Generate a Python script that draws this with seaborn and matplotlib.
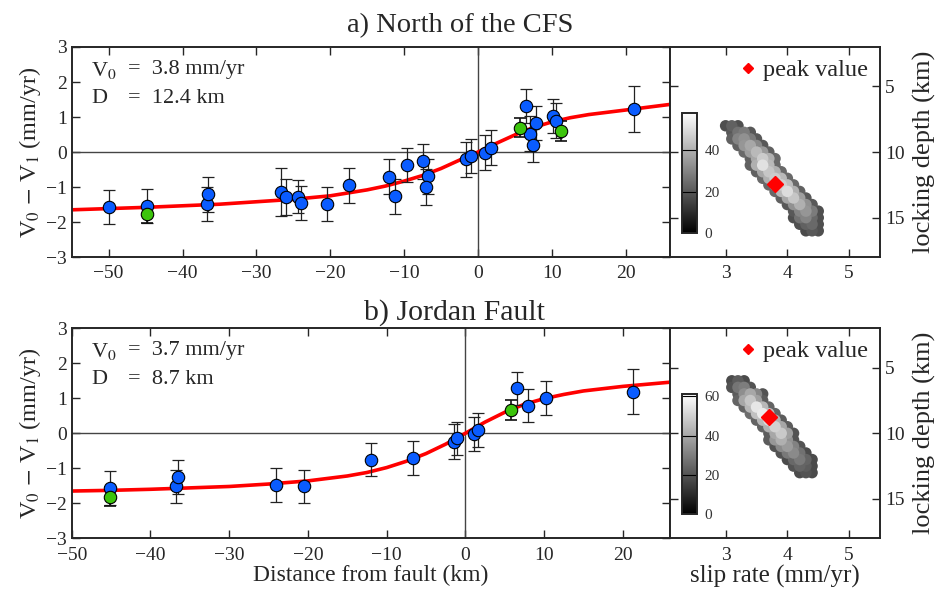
import numpy as np
import pandas as pd
import seaborn as sns
import matplotlib.pyplot as plt
import matplotlib as mpl
from matplotlib.lines import Line2D

# ---- profile data: a) north of the CFS ----
top_x = [-49.9, -44.8, -36.7, -36.5, -26.7, -26.0, -24.3, -24.0, -20.5, -17.4, -12.0, -11.3,
         -9.6, -7.4, -6.7, -7.1, -1.6, -1.0, 1.0, 1.7, 6.5, 7.1, 7.4, 7.9, 10.2, 10.6, 21.1]
top_v = [-1.57, -1.54, -1.49, -1.21, -1.14, -1.29, -1.27, -1.46, -1.49, -0.95, -0.71, -1.26,
         -0.38, -0.27, -0.69, -1.00, -0.21, -0.12, -0.02, 0.12, 1.32, 0.52, 0.19, 0.83, 1.02, 0.89, 1.22]
top_err = [0.48, 0.48, 0.48, 0.50, 0.69, 0.52, 0.48, 0.48, 0.48, 0.50, 0.50, 0.50,
           0.49, 0.50, 0.50, 0.51, 0.51, 0.48, 0.50, 0.50, 0.49, 0.50, 0.47, 0.48, 0.49, 0.50, 0.66]
top_gx = [-44.8, 5.7, 11.3]
top_gv = [-1.78, 0.70, 0.60]
top_gerr = [0.25, 0.28, 0.28]
top_curve_x = [-55, -45, -35, -25, -20, -15, -12.5, -10, -7.5, -5, -2.5, 0, 2.5, 5, 7.5, 10, 12.5, 15, 20, 26]
top_curve_v = [-1.65, -1.58, -1.49, -1.35, -1.25, -1.08, -0.97, -0.83, -0.67, -0.47, -0.23, 0.0,
               0.25, 0.49, 0.70, 0.86, 0.98, 1.07, 1.20, 1.36]

# ---- profile data: b) Jordan Fault ----
bot_x = [-45.1, -36.8, -36.5, -24.0, -20.5, -12.0, -6.7, -1.4, -1.0, 1.1, 1.6, 6.5, 8.0, 10.3, 21.3]
bot_v = [-1.57, -1.52, -1.24, -1.48, -1.52, -0.75, -0.71, -0.24, -0.14, -0.02, 0.10, 1.28, 0.79, 1.00, 1.19]
bot_err = [0.48, 0.48, 0.49, 0.48, 0.48, 0.47, 0.48, 0.50, 0.47, 0.48, 0.49, 0.48, 0.47, 0.48, 0.65]
bot_gx = [-45.1, 5.8]
bot_gv = [-1.81, 0.67]
bot_gerr = [0.27, 0.28]
bot_curve_x = [-50, -45, -40, -35, -30, -25, -20, -15, -12.5, -10, -7.5, -5, -2.5, 0,
               2.5, 5, 7.5, 10, 12.5, 15, 20, 26]
bot_curve_v = [-1.65, -1.63, -1.60, -1.56, -1.52, -1.45, -1.36, -1.22, -1.12, -0.98, -0.80, -0.58, -0.31, 0.0,
               0.32, 0.60, 0.83, 0.99, 1.11, 1.21, 1.34, 1.46]

# ---- slip rate / locking depth histograms (rows of circles, slip step 0.1) ----
top_blob_depth = [8.0, 8.5, 9.0, 9.5, 10.0, 10.5, 11.0, 11.5, 12.0, 12.5, 13.0, 13.5, 14.0, 14.5, 15.0, 15.5, 16.0]
top_blob_slip0 = [3.0, 3.1, 3.1, 3.2, 3.3, 3.4, 3.4, 3.5, 3.6, 3.7, 3.8, 3.9, 4.0, 4.1, 4.1, 4.2, 4.3]
top_blob_counts = [[18, 22, 18], [20, 26, 28, 20], [22, 30, 33, 28, 20], [22, 34, 38, 31, 20],
                   [24, 36, 42, 35, 22], [22, 38, 46, 40, 24], [22, 40, 51, 42, 24], [22, 38, 45, 40, 24],
                   [24, 40, 46, 42, 24], [24, 42, 47, 43, 24], [24, 42, 50, 40, 22], [22, 38, 45, 36, 20],
                   [20, 33, 40, 33, 20], [20, 30, 34, 28, 18], [18, 26, 30, 24, 18], [18, 22, 24, 18], [17, 20, 18]]
top_peak = (3.8, 12.4)
top_cmax = 58

bot_blob_depth = [6.0, 6.5, 7.0, 7.5, 8.0, 8.5, 9.0, 9.5, 10.0, 10.5, 11.0, 11.5, 12.0, 12.5, 13.0]
bot_blob_slip0 = [3.1, 3.1, 3.2, 3.2, 3.3, 3.4, 3.5, 3.6, 3.7, 3.7, 3.8, 3.9, 4.0, 4.1, 4.2]
bot_blob_counts = [[18, 22, 18], [20, 28, 30, 20], [22, 34, 40, 32, 20], [24, 40, 47, 38, 22],
                   [24, 44, 55, 44, 24], [26, 46, 56, 45, 24], [24, 44, 52, 42, 22], [24, 42, 50, 40, 22],
                   [22, 40, 48, 38, 20], [22, 36, 42, 35, 20], [20, 33, 37, 31, 20], [20, 29, 33, 27, 18],
                   [18, 25, 29, 24, 18], [20, 24, 22, 18], [18, 20, 18]]
bot_peak = (3.7, 8.75)
bot_cmax = 61

BLUE = '#0a5cff'
GREEN = '#3cc40c'

sns.set_theme(style='ticks')
plt.rcParams['font.family'] = ['Liberation Serif', 'DejaVu Serif']
plt.rcParams['mathtext.fontset'] = 'stix'
plt.rcParams['axes.linewidth'] = 1.4
plt.rcParams['xtick.direction'] = 'in'
plt.rcParams['ytick.direction'] = 'in'


def blob_frame(depths, slip0, counts):
    rows = []
    for d, s0, row in zip(depths, slip0, counts):
        for i, c in enumerate(row):
            rows.append({'slip': round(s0 + 0.1 * i, 2), 'depth': d, 'count': c})
    return pd.DataFrame(rows).sort_values('count')


def profile_panel(ax, x, v, err, gx, gv, gerr, cx, cv, xlim, v0, d):
    ax.axhline(0, color='#444444', lw=1, zorder=1)
    ax.axvline(0, color='#444444', lw=1, zorder=1)
    sns.lineplot(x=cx, y=cv, color='red', lw=2.6, ax=ax, zorder=2)
    ax.errorbar(x, v, yerr=err, fmt='none', ecolor='#222222', elinewidth=0.9, capsize=4.5, capthick=0.9, zorder=3)
    ax.errorbar(gx, gv, yerr=gerr, fmt='none', ecolor='#111111', elinewidth=1.2, capsize=4.5, capthick=1.2, zorder=3)
    sns.scatterplot(x=x, y=v, color=BLUE, edgecolor='black', linewidth=0.8, s=80, ax=ax, zorder=4)
    sns.scatterplot(x=gx, y=gv, color=GREEN, edgecolor='black', linewidth=0.8, s=80, ax=ax, zorder=4)
    ax.set_xlim(*xlim)
    ax.set_ylim(-3, 3)
    ax.set_yticks([-3, -2, -1, 0, 1, 2, 3])
    ax.set_xticks([-50, -40, -30, -20, -10, 0, 10, 20])
    ax.tick_params(top=True, right=True, labelsize=14, length=6, width=1)
    ax.tick_params(axis='x', pad=6)
    ax.set_ylabel(r'V$_0$ $-$ V$_1$ (mm/yr)', fontsize=17.5, labelpad=2)
    ax.text(0.033, 0.94, r'V$_0$', transform=ax.transAxes, fontsize=16, va='top')
    ax.text(0.033, 0.80, 'D', transform=ax.transAxes, fontsize=16, va='top')
    ax.text(0.094, 0.94, f'=  {v0} mm/yr', transform=ax.transAxes, fontsize=16, va='top')
    ax.text(0.094, 0.80, f'=  {d} km', transform=ax.transAxes, fontsize=16, va='top')


def blob_panel(ax, fig, df, peak, cmax, cticks):
    norm = mpl.colors.Normalize(vmin=0, vmax=cmax)
    sns.scatterplot(data=df, x='slip', y='depth', hue='count', palette='gray', hue_norm=norm,
                    s=68, edgecolor='none', legend=False, ax=ax, zorder=2)
    ax.plot([peak[0]], [peak[1]], marker='D', color='red', ms=8, ls='none', zorder=3)
    ax.set_xlim(2.1, 5.5)
    ax.set_ylim(18, 2)
    ax.set_xticks([3, 4, 5])
    ax.set_yticks([5, 10, 15])
    ax.yaxis.tick_right()
    ax.yaxis.set_label_position('right')
    ax.tick_params(top=True, left=True, right=True, labelleft=False, labelright=True,
                   labelsize=14, length=6, width=1)
    ax.tick_params(axis='x', pad=6)
    ax.set_ylabel('locking depth (km)', fontsize=19, labelpad=6)
    ax.set_xlabel('')
    h = Line2D([], [], marker='D', color='red', ls='none', ms=5)
    ax.legend([h], ['peak value'], loc='upper right', frameon=False, fontsize=17.5,
              handletextpad=0.1, borderaxespad=0.1, handlelength=1.0)
    cax = ax.inset_axes([0.055, 0.114, 0.075, 0.572])
    sm = mpl.cm.ScalarMappable(norm=norm, cmap='gray')
    cb = fig.colorbar(sm, cax=cax, ticks=cticks)
    cb.outline.set_linewidth(1.4)
    cax.tick_params(labelsize=11, length=0, pad=5, labelcolor='#333333')
    for t in cticks[1:]:
        if t < cmax:
            cax.axhline(t, color='black', lw=0.8)


fig = plt.figure(figsize=(9.4, 5.91), dpi=100)
ax1 = fig.add_axes([0.0763, 0.565, 0.6365, 0.3555])
ax2 = fig.add_axes([0.7128, 0.565, 0.2234, 0.3555])
ax3 = fig.add_axes([0.0763, 0.0892, 0.6365, 0.3553])
ax4 = fig.add_axes([0.7128, 0.0892, 0.2234, 0.3553])

profile_panel(ax1, top_x, top_v, top_err, top_gx, top_gv, top_gerr, top_curve_x, top_curve_v,
              (-55, 26), 3.8, 12.4)
profile_panel(ax3, bot_x, bot_v, bot_err, bot_gx, bot_gv, bot_gerr, bot_curve_x, bot_curve_v,
              (-50, 26), 3.7, 8.7)
ax3.set_xlabel('Distance from fault (km)', fontsize=17, labelpad=1)

blob_panel(ax2, fig, blob_frame(top_blob_depth, top_blob_slip0, top_blob_counts), top_peak, top_cmax, [0, 20, 40])
blob_panel(ax4, fig, blob_frame(bot_blob_depth, bot_blob_slip0, bot_blob_counts), bot_peak, bot_cmax, [0, 20, 40, 60])
ax4.set_xlabel('slip rate (mm/yr)', fontsize=18, labelpad=1)

fig.text(0.490, 0.957, 'a) North of the CFS', ha='center', va='center', fontsize=20.5)
fig.text(0.484, 0.472, 'b) Jordan Fault', ha='center', va='center', fontsize=21.5)

fig.savefig('out.png', dpi=100)
